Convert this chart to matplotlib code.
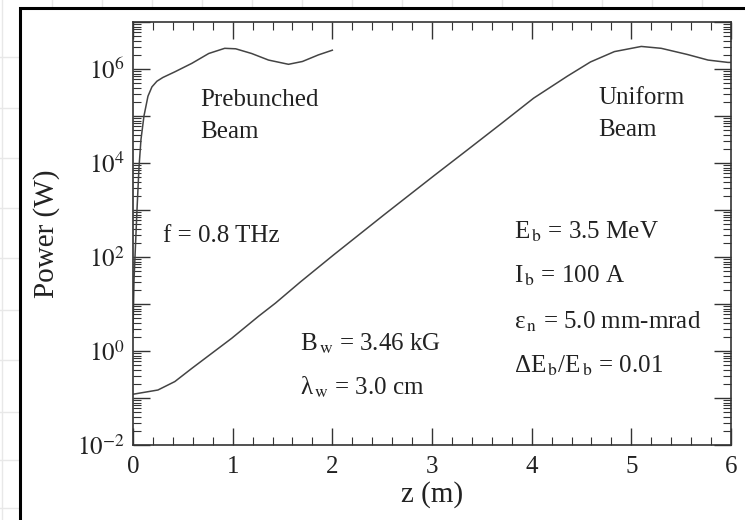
import numpy as np
import matplotlib
matplotlib.use('Agg')
import matplotlib.pyplot as plt
from matplotlib.ticker import LogLocator, FuncFormatter, MultipleLocator, NullFormatter
from matplotlib.patches import Rectangle
from matplotlib.lines import Line2D

plt.rcParams['font.family'] = ['Liberation Serif', 'DejaVu Serif']
plt.rcParams['mathtext.fontset'] = 'stix'

# prebunched beam, z (m) and log10 power (W)
z_pre = [0.0, 0.01, 0.02, 0.04, 0.06, 0.08, 0.11, 0.15, 0.19, 0.24, 0.30, 0.42,
         0.59, 0.76, 0.92, 1.03, 1.19, 1.36, 1.56, 1.70, 1.86, 2.0]
logp_pre = [0.4, 1.5, 2.0, 3.0, 3.9, 4.5, 5.0, 5.42, 5.62, 5.74, 5.82, 5.94,
            6.12, 6.33, 6.44, 6.43, 6.33, 6.19, 6.10, 6.16, 6.30, 6.40]

# uniform beam
z_uni = [0.0, 0.25, 0.42, 0.59, 0.79, 0.99, 1.26, 1.43, 1.68, 2.01, 2.52,
         3.02, 3.35, 3.69, 4.02, 4.36, 4.59, 4.83, 5.10, 5.30, 5.56, 5.77, 5.97, 6.0]
logp_uni = [-0.92, -0.83, -0.65, -0.37, -0.05, 0.27, 0.74, 1.02, 1.47, 2.04, 2.90,
            3.73, 4.27, 4.83, 5.38, 5.85, 6.15, 6.37, 6.48, 6.44, 6.31, 6.19, 6.14, 6.14]

W, H = 745, 520
fig = plt.figure(figsize=(W / 100, H / 100), dpi=100)

# faint slide grid behind the frame
for gx in range(2, W, 50):
    fig.add_artist(Line2D([gx / W, gx / W], [0, 1], color='#e8e8e8', lw=1, zorder=-3))
for gy in [57, 108, 158, 208, 258, 310, 360, 412, 460, 508]:
    fig.add_artist(Line2D([0, 1], [1 - gy / H, 1 - gy / H], color='#e8e8e8', lw=1, zorder=-3))
fig.add_artist(Rectangle((20 / W, -0.02), 1.0, 1 - 8 / H + 0.02, transform=fig.transFigure,
                         facecolor='white', edgecolor='black', lw=2.2, zorder=-2))

ax = fig.add_axes([133 / W, 75 / H, 598 / W, 423 / H])
ax.patch.set_alpha(0)

ax.plot(z_pre, 10 ** np.array(logp_pre), color='#444444', lw=1.1)
ax.plot(z_uni, 10 ** np.array(logp_uni), color='#444444', lw=1.1)

ax.set_yscale('log')
ax.set_xlim(0, 6)
ax.set_ylim(1e-2, 1e7)

ax.xaxis.set_major_locator(MultipleLocator(1))
ax.xaxis.set_minor_locator(MultipleLocator(0.2))
ax.yaxis.set_major_locator(LogLocator(base=10, numticks=20))
ax.yaxis.set_minor_locator(LogLocator(base=10, subs=np.arange(2, 10), numticks=20))
ax.yaxis.set_minor_formatter(NullFormatter())


def fmt(v, pos):
    e = int(round(np.log10(v)))
    return r'$10^{%d}$' % e if e % 2 == 0 and e < 7 else ''


ax.yaxis.set_major_formatter(FuncFormatter(fmt))

ax.tick_params(which='both', direction='in', top=True, right=True, colors='#333333',
               labelcolor='#222222', labelsize=18)
ax.tick_params(which='major', length=12, width=1)
ax.tick_params(which='minor', length=6, width=0.8)
ax.tick_params(axis='x', pad=8)
ax.tick_params(axis='y', pad=6)
for s in ax.spines.values():
    s.set_color('#333333')
    s.set_linewidth(1.2)

ax.set_xlabel('z (m)', fontsize=21, color='#222222', labelpad=2)
ax.set_ylabel('Power (W)', fontsize=21, color='#222222', labelpad=12)

tk = dict(transform=ax.transAxes, fontsize=18, color='#222222', va='center', ha='left')
ax.text(0.112, 0.816, 'Prebunched', **tk)
ax.text(0.112, 0.740, 'Beam', **tk)
ax.text(0.778, 0.820, 'Uniform', **tk)
ax.text(0.778, 0.745, 'Beam', **tk)
ax.text(0.050, 0.494, 'f = 0.8 THz', **tk)
ax.text(0.279, 0.240, r'B$_{\,\mathrm{w}}$ = 3.46 kG', **tk)
ax.text(0.279, 0.136, r'λ$_{\,\mathrm{w}}$ = 3.0 cm', **tk)
ax.text(0.637, 0.503, r'E$_{\,\mathrm{b}}$ = 3.5 MeV', **tk)
ax.text(0.637, 0.401, r'I$_{\,\mathrm{b}}$ = 100 A', **tk)
ax.text(0.637, 0.292, r'ε$_{\,\mathrm{n}}$ = 5.0 mm-mrad', **tk)
ax.text(0.637, 0.188, r'ΔE$_{\,\mathrm{b}}$/E$_{\,\mathrm{b}}$ = 0.01', **tk)

fig.savefig('out.png', dpi=100)
